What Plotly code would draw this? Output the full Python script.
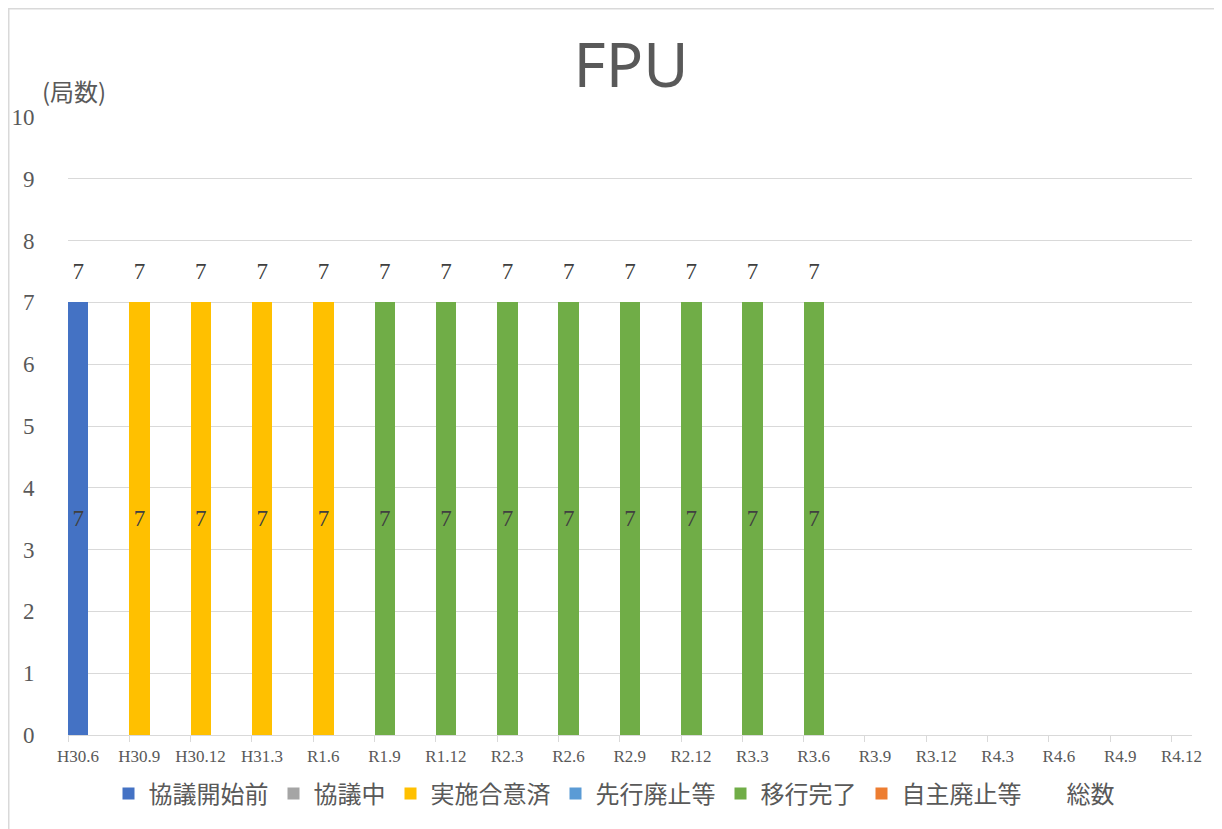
import plotly.graph_objects as go

categories = ["H30.6", "H30.9", "H30.12", "H31.3", "R1.6", "R1.9", "R1.12", "R2.3", "R2.6",
              "R2.9", "R2.12", "R3.3", "R3.6", "R3.9", "R3.12", "R4.3", "R4.6", "R4.9", "R4.12"]
N = None
before_talks = [7, N, N, N, N, N, N, N, N, N, N, N, N, N, N, N, N, N, N]       # 協議開始前
in_talks = [N] * 19                                                              # 協議中
agreed = [N, 7, 7, 7, 7, N, N, N, N, N, N, N, N, N, N, N, N, N, N]             # 実施合意済
early_abolish = [N] * 19                                                         # 先行廃止等
migrated = [N, N, N, N, N, 7, 7, 7, 7, 7, 7, 7, 7, N, N, N, N, N, N]          # 移行完了
self_abolish = [N] * 19                                                          # 自主廃止等
totals = [7, 7, 7, 7, 7, 7, 7, 7, 7, 7, 7, 7, 7, N, N, N, N, N, N]             # 総数
y_ticks = [0, 1, 2, 3, 4, 5, 6, 7, 8, 9, 10]

series = [
    ("協議開始前", before_talks, "#4472C4"),
    ("協議中", in_talks, "#A5A5A5"),
    ("実施合意済", agreed, "#FFC000"),
    ("先行廃止等", early_abolish, "#5B9BD5"),
    ("移行完了", migrated, "#70AD47"),
    ("自主廃止等", self_abolish, "#ED7D31"),
]

# geometry (figure pixels; page body adds an 8px offset)
W, H = 1214, 821
L, R, T, B = 60, 1184, 109, 727
px_per_cat = 61.33
bar_px = 20.5
bar_w = bar_px / px_per_cat
x_max = 18 + bar_w
idx = list(range(len(categories)))
xpos = [i + bar_w / 2 for i in idx]

def px_x(p):
    return (p - L) / (R - L)

def px_y(p):
    return (B - p) / (B - T)

serif = "Liberation Serif, Times New Roman, serif"
cjk = "Noto Sans CJK JP, Noto Sans, sans-serif"

fig = go.Figure()
for name, vals, col in series:
    fig.add_trace(go.Bar(
        x=xpos, y=vals, name=name, width=bar_w,
        marker=dict(color=col, line=dict(width=0)),
        text=[("%d" % v) if v else "" for v in vals],
        textposition="inside", insidetextanchor="middle", textangle=0,
        textfont=dict(family=serif, size=23, color="#404040"),
        cliponaxis=False,
    ))

fig.add_trace(go.Scatter(
    x=xpos, y=totals, name="総数", mode="markers+text",
    marker=dict(size=26, color="rgba(0,0,0,0)"),
    text=[("%d" % v) if v else "" for v in totals],
    textposition="top center",
    textfont=dict(family=serif, size=23, color="#404040"),
    cliponaxis=False,
))

fig.update_layout(
    width=W, height=H,
    margin=dict(l=L, r=W - R, t=T, b=H - B, autoexpand=False),
    paper_bgcolor="white", plot_bgcolor="white",
    barmode="stack",
    showlegend=True,
    title=dict(text="FPU", x=623 / W, xanchor="center", y=1 - 57 / H, yanchor="middle",
               font=dict(family="Noto Sans, sans-serif", size=62, color="#595959")),
    xaxis=dict(range=[0, x_max], tickmode="array", tickvals=idx, ticktext=categories,
               ticklabelshift=10,
               showgrid=False, zeroline=False, showline=True, linecolor="#d9d9d9", linewidth=1,
               ticks="outside", ticklen=6, tickcolor="#d9d9d9",
               tickfont=dict(family=serif, size=17, color="#595959"), tickangle=0),
    yaxis=dict(range=[0, 10], tickmode="array", tickvals=y_ticks,
               showgrid=True, gridcolor="#d9d9d9", gridwidth=1, zeroline=False, showline=False,
               ticks="outside", ticklen=28, tickcolor="rgba(0,0,0,0)",
               tickfont=dict(family=serif, size=23, color="#595959")),
    legend=dict(orientation="h", x=px_x(606), xanchor="center", y=px_y(786), yanchor="middle",
                font=dict(family=cjk, size=24, color="#595959"), traceorder="normal",
                itemwidth=30, tracegroupgap=0, bgcolor="rgba(0,0,0,0)"),
    annotations=[dict(text="(局数)", xref="paper", yref="paper", x=px_x(32), y=px_y(83),
                      xanchor="left", yanchor="middle", showarrow=False,
                      font=dict(family=cjk, size=24, color="#595959"))],
    shapes=[dict(type="rect", xref="paper", yref="paper",
                 x0=px_x(0.5), x1=px_x(1209), y0=px_y(850), y1=px_y(0.5),
                 line=dict(color="#d9d9d9", width=2), fillcolor="rgba(0,0,0,0)", layer="below")],
)

fig.write_html("out.html")
